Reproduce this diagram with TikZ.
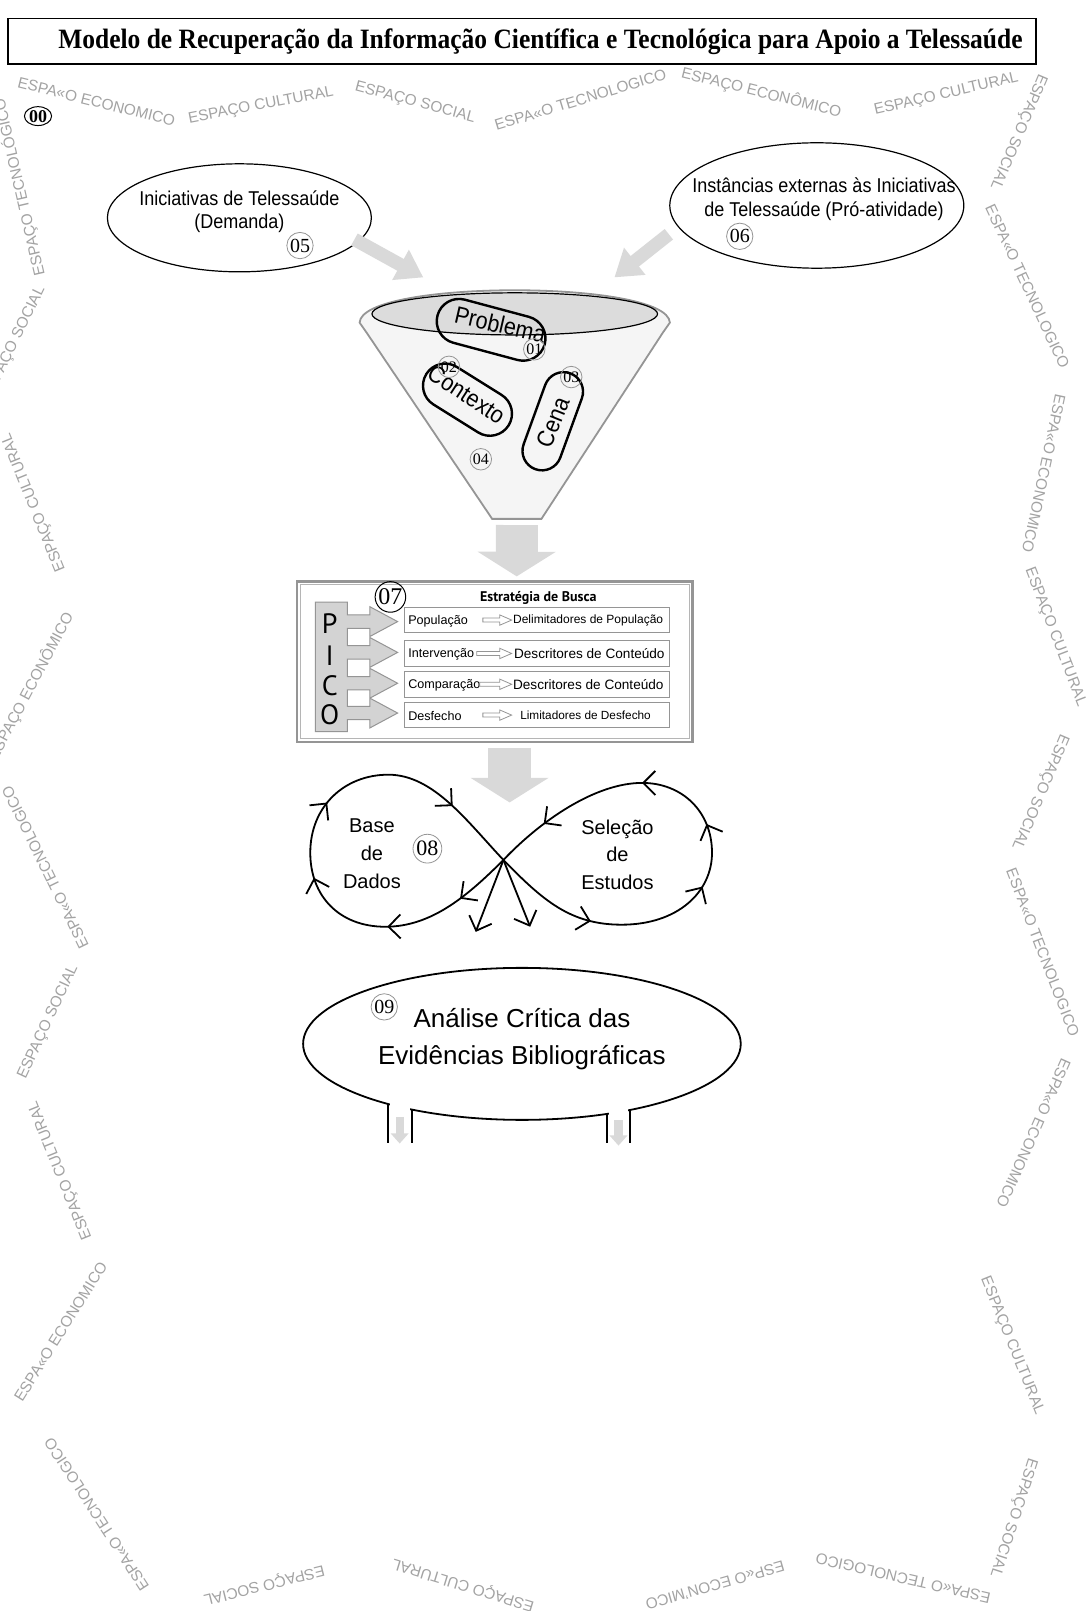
\documentclass[tikz,border=0pt]{standalone}
\usepackage{fontspec}
\setmainfont{Liberation Serif}
\setsansfont{Liberation Sans}
\newfontfamily\titlefont[FakeStretch=0.91]{Liberation Serif}
\newfontfamily\narrowsans[FakeStretch=0.9]{Liberation Sans}
\newfontfamily\picofont{PT Sans}
\usetikzlibrary{shapes.geometric, shapes.misc, arrows.meta, positioning, calc, decorations.markings}
\definecolor{WaterGray}{HTML}{A3A3A3}
\definecolor{ArrowGray}{HTML}{D9D9D9}
\definecolor{FunnelFill}{HTML}{F5F5F5}
\definecolor{RimGray}{HTML}{DCDCDC}
\definecolor{EdgeGray}{HTML}{959595}
\definecolor{PicoGray}{HTML}{D3D3D3}
% small hollow arrow between two named points
\newcommand{\pointerarrow}[2]{%
  \draw[draw=EdgeGray, fill=white, line width=0.4pt]
    let \p1=(#1), \p2=(#2) in
    (\x1,\y1+1pt) -- (\x2-6pt,\y1+1pt) -- (\x2-6pt,\y1+2.6pt) -- (\x2,\y1)
    -- (\x2-6pt,\y1-2.6pt) -- (\x2-6pt,\y1-1pt) -- (\x1,\y1-1pt) -- cycle;}

\begin{document}
\begin{tikzpicture}[x=0.51367pt, y=-0.51367pt,
  oval/.style={draw, ellipse, line width=0.6pt, inner sep=0pt},
  ovaltext/.style={align=center, font=\narrowsans\fontsize{10}{11.8}\selectfont},
  numtag/.style={draw=EdgeGray, circle, inner sep=0.4pt, line width=0.4pt, font=\fontsize{8}{8}\selectfont},
  pill/.style={draw, rounded rectangle, line width=1.2pt, inner sep=0pt},
  pilltext/.style={font=\narrowsans\fontsize{12}{12}\selectfont, inner sep=0pt},
  watermark/.style={text=WaterGray, font=\sffamily\fontsize{7.7}{8}\selectfont, inner sep=0pt},
  flowarrow/.style={draw=ArrowGray, line width=6.7pt, -{Triangle[length=13pt, width=16.4pt]}},
  downflow/.style={draw=ArrowGray, line width=21pt, -{Triangle[length=12.3pt, width=38.5pt]}},
  tubeflow/.style={draw=ArrowGray, line width=4.1pt, -{Triangle[length=5.1pt, width=8.7pt]}},
  rowbox/.style={draw=EdgeGray, line width=0.5pt, fill=white, minimum width=132.5pt, minimum height=12.8pt, inner sep=0pt},
  rowtext/.style={font=\sffamily\fontsize{6.3}{6.3}\selectfont, inner sep=0pt},
  loopline/.style={line width=0.9pt},
  looptext/.style={align=center, font=\sffamily\fontsize{10}{13.9}\selectfont},
  chev/.tip={Straight Barb[length=6pt, width=12pt]}
]
  \fill[white] (0,0) rectangle (1061,1568);
  \useasboundingbox (0,0) rectangle (1061,1568);

  % background words around the page
  \foreach \wx/\wy/\wa/\wt [count=\k] in {
      94/99/-14/ESPA«O ECONOMICO, 254/103/11/ESPAÇO CULTURAL,
      404/100/-15/ESPAÇO SOCIAL, 565/97/17/ESPA«O TECNOLOGICO,
      741/90/-14/ESPAÇO ECONÔMICO, 921/92/13/ESPAÇO CULTURAL,
      991/128/-113/ESPAÇO SOCIAL, 1000/279/-65/ESPA«O TECNOLOGICO,
      1016/461/-102/ESPA«O ECONOMICO, 1027/620/-69/ESPAÇO CULTURAL,
      1012/771/-113/ESPAÇO SOCIAL, 1015/927/-69/ESPA«O TECNOLOGICO,
      1006/1103/-114/ESPA«O ECONOMICO, 985/1310/-68/ESPAÇO CULTURAL,
      986/1477/-108/ESPAÇO SOCIAL, 879/1536/167/ESPA«O TECNOLOGICO,
      696/1543/-164/ESP«O ECON’MICO, 451/1542/163/ESPAÇO CULTURAL,
      257/1542/-166/ESPAÇO SOCIAL, 94/1474/123/ESPA«O TECNOLOGICO,
      59/1296/58/ESPA«O ECONOMICO, 59/1139/112/ESPAÇO CULTURAL,
      47/995/65/ESPAÇO SOCIAL, 44/844/116/ESPA«O TECNOLOGICO,
      30/668/62/ESPAÇO ECONÔMICO, 33/489/112/ESPAÇO CULTURAL,
      14/334/64/ESPAÇO SOCIAL, 19/182/103/ESPAÇO TECNOLÓGICO}
    \node[watermark, rotate=\wa] (word\k) at (\wx,\wy) {\wt};

  % title
  \node[draw, line width=0.9pt, minimum width=513.7pt, minimum height=22.6pt, inner sep=0pt] (titlebox) at (508,40) {};
  \node[font=\titlefont\bfseries\fontsize{14}{14}\selectfont, inner sep=0pt] (title) at (526,41)
    {Modelo de Recuperação da Informação Científica e Tecnológica para Apoio a Telessaúde};
  \node[draw, ellipse, inner sep=0.3pt, line width=0.5pt, font=\bfseries\fontsize{9}{9}\selectfont] (tag00) at (37,113) {00};

  % sources
  \node[oval, minimum width=132pt, minimum height=54pt] (demanda) at (233,212) {};
  \node[ovaltext] (demandatext) at (233,206) {Iniciativas de Telessaúde\\(Demanda)};
  \node[numtag, font=\fontsize{10}{10}\selectfont] (tag05) at (292,239) {05};
  \node[oval, minimum width=147pt, minimum height=62.7pt] (proativ) at (795,200) {};
  \node[ovaltext] (proativtext) at (802,194) {Instâncias externas às Iniciativas\\de Telessaúde (Pró-atividade)};
  \node[numtag, font=\fontsize{10}{10}\selectfont] (tag06) at (720,230) {06};

  \coordinate (demandaout) at (345,233);
  \coordinate (funnelinL) at (412,270);
  \coordinate (proativout) at (651,228);
  \coordinate (funnelinR) at (598,270);
  \draw[flowarrow] (demandaout) -- (funnelinL);
  \draw[flowarrow] (proativout) -- (funnelinR);

  % funnel
  \filldraw[fill=FunnelFill, draw=EdgeGray, line width=0.9pt]
    (350,314) .. controls (352,272) and (650,272) .. (652,314)
    -- (645,324) -- (527,505) -- (479,505) -- (357,324) -- cycle;
  \filldraw[fill=RimGray, draw=black, line width=0.6pt] (501,305.5) ellipse [x radius=139, y radius=20.5];

  \node[pill, minimum width=55.5pt, minimum height=22.3pt, rotate=-15] (problema) at (478,321) {};
  \node[pilltext, rotate=-13] (problematext) at (487,316) {Problema};
  \node[pill, minimum width=48.5pt, minimum height=22.1pt, rotate=-32] (contexto) at (455,389) {};
  \node[pilltext, rotate=-33] (contextotext) at (454,384) {Contexto};
  \node[pill, minimum width=51pt, minimum height=19.5pt, rotate=70] (cena) at (538,410) {};
  \node[pilltext, rotate=68] (cenatext) at (538,411) {Cena};
  \node[numtag] (tag01) at (520,340) {01};
  \node[numtag] (tag02) at (437,357) {02};
  \node[numtag] (tag03) at (556,367) {03};
  \node[numtag] (tag04) at (468,447) {04};

  % search strategy
  \node[draw=EdgeGray, line width=1.2pt, minimum width=197.8pt, minimum height=80.1pt, inner sep=0pt] (strategy) at (481.5,644) {};
  \draw[EdgeGray!70, line width=0.4pt] ([xshift=2.2pt,yshift=-2.2pt]strategy.north west) rectangle ([xshift=-2.2pt,yshift=2.2pt]strategy.south east);
  \coordinate (funnelout) at (503,511);
  \draw[downflow] (funnelout) -- ([xshift=11pt,yshift=2pt]strategy.north);

  \node[font=\picofont\bfseries\fontsize{7}{7}\selectfont, inner sep=0pt] (heading) at (524,582) {Estratégia de Busca};
  \node[draw, circle, inner sep=0.3pt, line width=0.5pt, font=\fontsize{12}{12}\selectfont] (tag07) at (380,581) {07};

  \filldraw[fill=PicoGray, draw=EdgeGray, line width=0.5pt] (307,586) -- (338,586)
    \foreach \y in {605,635,665,694} {
      -- (338,\y-6.5) -- (360,\y-6.5) -- (360,\y-14.5) -- (387,\y)
      -- (360,\y+14.5) -- (360,\y+6.5) -- (338,\y+6.5) }
    -- (338,712) -- (307,712) -- cycle;
  \foreach \y/\letter in {607/P,638/I,667/C,696/O}
    \node[font=\picofont\fontsize{14}{14}\selectfont, inner sep=0pt] (pico\letter) at (321,\y) {\letter};

  \foreach \i/\y/\lab/\desc/\dsize/\dx/\tx in {
      1/603.5/População/Delimitadores de População/6.0/499/470,
      2/636/Intervenção/Descritores de Conteúdo/6.8/500/464,
      3/666/Comparação/Descritores de Conteúdo/6.8/499/467,
      4/696/Desfecho/Limitadores de Desfecho/5.9/506/470} {
    \node[rowbox] (row\i) at (523,\y) {};
    \node[rowtext, anchor=west] (term\i) at (397,\y+1) {\lab};
    \node[rowtext, font=\sffamily\fontsize{\dsize}{\dsize}\selectfont, anchor=west] (desc\i) at (\dx,\y) {\desc};
    \coordinate (tail\i) at (\tx,\y);
    \coordinate (head\i) at (498,\y);
    \pointerarrow{tail\i}{head\i}
  }

  % search loop
  \coordinate (stratout) at (496,728);
  \coordinate (loopin) at (496,781);
  \draw[downflow, line width=21.6pt] (stratout) -- (loopin);
  \coordinate (cross) at (490,837);
  \draw[loopline, postaction={decorate}, decoration={markings,
      mark=at position 0.11 with {\arrow{chev}},
      mark=at position 0.26 with {\arrow{chev}},
      mark=at position 0.44 with {\arrow{chev}},
      mark=at position 0.59 with {\arrow{chev}},
      mark=at position 0.86 with {\arrow{chev}}}]
    (cross) .. controls (455,872) and (420,902) .. (375,902)
    .. controls (330,902) and (302,872) .. (302,830)
    .. controls (302,785) and (335,754) .. (378,754)
    .. controls (422,754) and (455,800) .. (cross);
  \draw[loopline, postaction={decorate}, decoration={markings,
      mark=at position 0.2 with {\arrow{chev}},
      mark=at position 0.43 with {\arrow{chev}},
      mark=at position 0.55 with {\arrow{chev}},
      mark=at position 0.7 with {\arrow{chev}},
      mark=at position 0.9 with {\arrow{chev}}}]
    (cross) .. controls (528,876) and (555,900) .. (605,900)
    .. controls (660,900) and (693,868) .. (693,830)
    .. controls (693,790) and (664,762) .. (625,762)
    .. controls (580,762) and (527,798) .. (cross);
  \coordinate (dropL) at (463,907);
  \coordinate (dropR) at (516,902);
  \draw[loopline, -{chev}] (cross) -- (dropL);
  \draw[loopline, -{chev}] (cross) -- (dropR);
  \node[looptext] (basedados) at (362,831) {Base\\de\\Dados};
  \node[looptext] (selecao) at (601,832) {Seleção\\de\\Estudos};
  \node[numtag, font=\fontsize{11}{11}\selectfont] (tag08) at (416,826) {08};

  % critical analysis
  \node[oval, line width=0.9pt, minimum width=218.8pt, minimum height=76pt] (analise) at (508,1016) {};
  \node[align=center, font=\sffamily\fontsize{13}{18.5}\selectfont] (analisetext) at (508,1011) {Análise Crítica das\\Evidências Bibliográficas};
  \node[numtag, font=\fontsize{10}{10}\selectfont] (tag09) at (374,980) {09};
  \fill[white] (379.5,1068) rectangle (399.5,1095);
  \fill[white] (592.5,1072) rectangle (611.5,1095);
  \draw[line width=0.9pt] (378,1074.6) -- (378,1112) (401,1080) -- (401,1112)
    (591,1084) -- (591,1112) (613,1080.4) -- (613,1112);
  \coordinate (tubeLtop) at (389,1087);
  \coordinate (tubeLbot) at (389,1113);
  \coordinate (tubeRtop) at (602,1090);
  \coordinate (tubeRbot) at (602,1115);
  \draw[tubeflow] (tubeLtop) -- (tubeLbot);
  \draw[tubeflow] (tubeRtop) -- (tubeRbot);
\end{tikzpicture}
\end{document}
